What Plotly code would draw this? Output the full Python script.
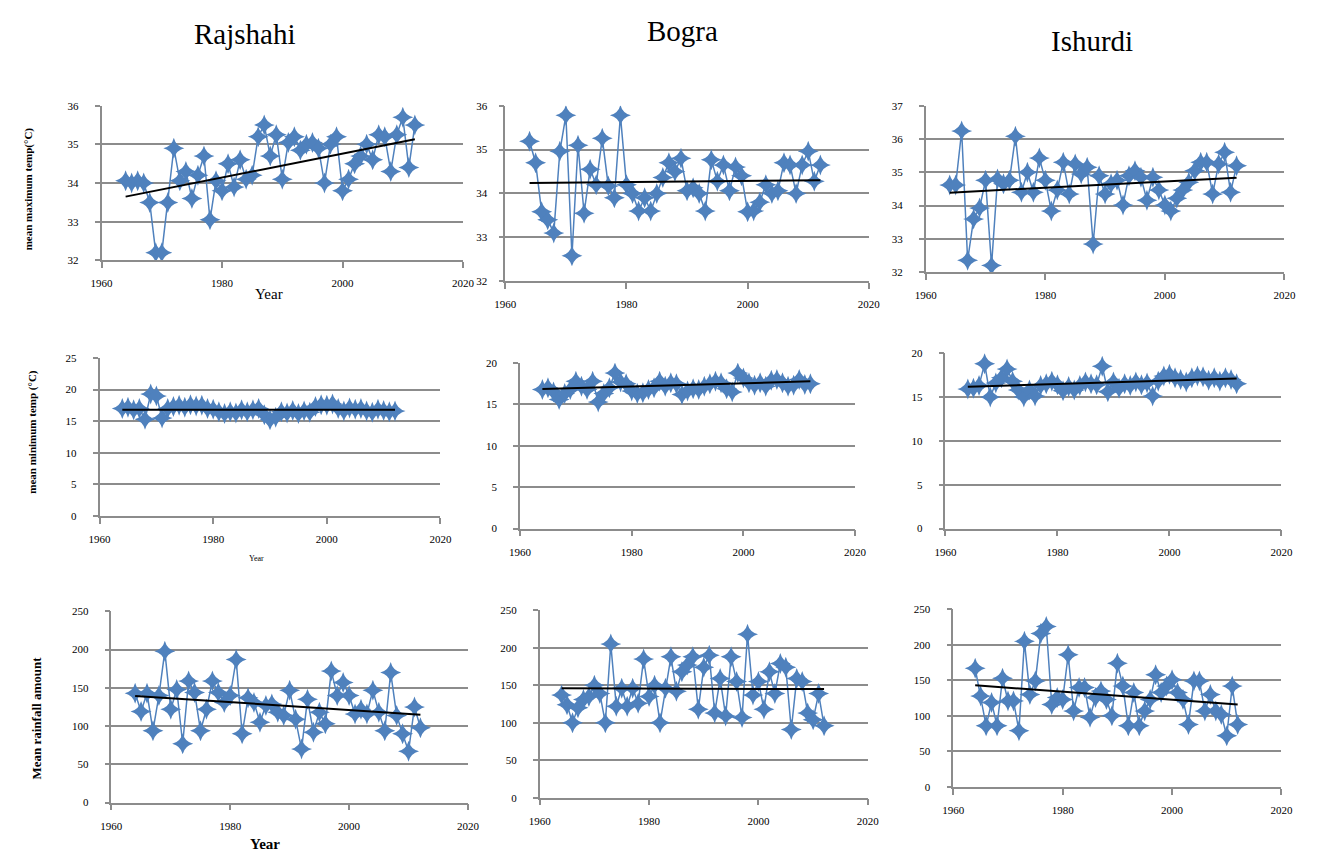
import plotly.graph_objects as go

years = list(range(1964, 2013))

raj_max = [34.06, 34.0, 34.06, 34.0, 33.5, 32.2, 32.2, 33.5, 34.9, 34.06,
           34.3, 33.6, 34.2, 34.7, 33.05, 34.06, 33.8, 34.5, 33.9, 34.6,
           34.1, 34.2, 35.2, 35.5, 34.7, 35.25, 34.1, 35.05, 35.2, 34.85,
           35.0, 35.05, 34.9, 34.0, 35.0, 35.2, 33.8, 34.1, 34.5, 34.7,
           35.0, 34.6, 35.25, 35.2, 34.3, 35.25, 35.7, 34.4, 35.5]
bog_max = [35.19, 34.7, 33.58, 33.4, 33.1, 34.96, 35.78, 32.58, 35.1, 33.55,
           34.55, 34.2, 35.26, 34.17, 33.9, 35.78, 34.2, 34.0, 33.6, 33.9,
           33.6, 34.0, 34.36, 34.7, 34.5, 34.8, 34.06, 34.13, 34.0, 33.6,
           34.77, 34.28, 34.65, 34.06, 34.6, 34.4, 33.58, 33.6, 33.8, 34.2,
           34.0, 34.06, 34.7, 34.65, 34.0, 34.65, 34.96, 34.28, 34.65]
ish_max = [34.62, 34.62, 36.24, 32.36, 33.6, 33.93, 34.76, 32.2, 34.8, 34.66,
           34.76, 36.08, 34.4, 35.0, 34.4, 35.43, 34.76, 33.84, 34.47, 35.3,
           34.35, 35.25, 34.95, 35.15, 32.85, 34.9, 34.35, 34.66, 34.76, 34.02,
           34.9, 35.05, 34.85, 34.16, 34.85, 34.47, 34.02, 33.84, 34.22, 34.47,
           34.7, 35.05, 35.3, 35.3, 34.35, 35.25, 35.6, 34.4, 35.2]

raj_min = [17.0, 17.2, 16.8, 17.0, 15.3, 19.3, 19.0, 15.5, 17.0, 17.3,
           17.5, 17.2, 17.6, 17.4, 17.5, 17.0, 16.9, 16.5, 16.2, 16.5,
           16.3, 16.8, 16.5, 16.8, 17.0, 16.0, 15.2, 15.6, 16.5, 16.3,
           16.7, 16.2, 16.6, 16.4, 17.3, 17.6, 17.5, 17.7, 17.0, 16.6,
           17.1, 16.9, 17.0, 16.6, 16.4, 16.9, 16.7, 16.5, 16.6]
bog_min = [16.8, 17.0, 16.5, 15.6, 16.3, 16.8, 17.8, 17.2, 16.8, 17.8,
           15.3, 16.3, 17.0, 18.8, 17.7, 17.5, 16.6, 16.3, 16.4, 16.8,
           17.0, 17.8, 17.2, 17.6, 17.5, 16.2, 16.6, 16.9, 16.8, 17.2,
           17.5, 17.8, 17.6, 16.9, 16.5, 18.8, 18.2, 17.6, 17.3, 17.6,
           17.2, 17.9, 18.0, 17.6, 17.2, 17.3, 18.0, 17.4, 17.5]
ish_min = [15.9, 16.0, 16.3, 18.8, 15.0, 16.6, 17.2, 18.2, 16.8, 15.8,
           15.0, 15.8, 15.1, 16.3, 16.5, 16.8, 16.4, 15.7, 16.2, 15.8,
           16.3, 16.7, 16.5, 16.4, 18.5, 15.6, 16.7, 16.0, 16.5, 16.3,
           16.7, 16.4, 16.6, 15.1, 16.8, 17.4, 17.6, 17.2, 17.0, 16.7,
           17.2, 17.4, 17.3, 16.9, 17.2, 16.8, 17.2, 17.0, 16.5]

raj_rain = [143, 119, 143, 94, 140, 198, 122, 148, 77, 159,
            144, 94, 122, 159, 144, 131, 140, 187, 90, 137,
            131, 105, 127, 129, 118, 114, 147, 109, 70, 135,
            92, 118, 103, 172, 140, 157, 140, 116, 122, 116,
            147, 118, 94, 170, 114, 90, 67, 125, 98]
bog_rain = [137, 124, 100, 120, 131, 135, 150, 139, 100, 205,
            122, 146, 122, 146, 126, 185, 135, 150, 100, 146,
            188, 142, 168, 177, 188, 118, 174, 190, 113, 159,
            109, 188, 155, 107, 218, 137, 155, 118, 168, 139,
            179, 174, 91, 159, 155, 113, 104, 139, 96]
ish_rain = [167, 128, 86, 119, 86, 153, 121, 121, 79, 205,
            130, 149, 216, 226, 116, 126, 123, 186, 107, 140,
            140, 98, 126, 135, 123, 100, 174, 142, 86, 133,
            86, 107, 123, 158, 133, 142, 151, 133, 123, 88,
            149, 149, 107, 130, 107, 102, 72, 142, 88]

trend_years = [1964, 2012]
raj_max_trend = [33.65, 35.13]
bog_max_trend = [34.24, 34.30]
ish_max_trend = [34.39, 34.84]
raj_min_trend = [16.8, 16.8]
bog_min_trend = [16.87, 17.78]
ish_min_trend = [16.17, 17.1]
raj_rain_trend = [139.5, 115]
bog_rain_trend = [146, 145]
ish_rain_trend = [143, 116]

stations = ["Rajshahi", "Bogra", "Ishurdi"]
x_ticks = [1960, 1980, 2000, 2020]

W, H, OFF = 1310, 844, 8

panels = [
    # series, trend, yrange, dtick, (x0 px, x1 px, ytop px, ybottom px), y label standoff
    (raj_max, raj_max_trend, [32, 36], 1, (92, 460, 101, 258), 14),
    (bog_max, bog_max_trend, [32, 36], 1, (503, 873, 101, 279), 9),
    (ish_max, ish_max_trend, [32, 37], 1, (931, 1296, 101, 270), 14),
    (raj_min, raj_min_trend, [0, 25], 5, (90, 437, 357, 517), 14),
    (bog_min, bog_min_trend, [0, 20], 5, (518, 859, 362, 530), 14),
    (ish_min, ish_min_trend, [0, 20], 5, (951, 1293, 352, 530), 14),
    (raj_rain, raj_rain_trend, [0, 250], 50, (102, 465, 614, 808), 14),
    (bog_rain, bog_rain_trend, [0, 250], 50, (538, 872, 613, 803), 14),
    (ish_rain, ish_rain_trend, [0, 250], 50, (959, 1293, 612, 792), 14),
]

def fx(px):
    return (px - OFF) / W

def fy(py):
    return 1 - (py - OFF) / H

BLUE = "#4F81BD"
GRID = "#8C8C8C"
serif = "Liberation Serif"
tickfont = dict(family=serif, size=11, color="black")

fig = go.Figure()
layout = {}
for i, (vals, trend, yr, dt, (x0, x1, yt, yb), ysoff) in enumerate(panels):
    n = i + 1
    xa = "x" if n == 1 else f"x{n}"
    ya = "y" if n == 1 else f"y{n}"
    fig.add_trace(go.Scatter(
        x=years, y=vals, xaxis=xa, yaxis=ya, mode="lines+markers",
        line=dict(color=BLUE, width=1.5),
        marker=dict(symbol="star-diamond", size=15, color=BLUE,
                    line=dict(width=0)),
        showlegend=False, hoverinfo="x+y"))
    fig.add_trace(go.Scatter(
        x=trend_years, y=trend, xaxis=xa, yaxis=ya, mode="lines",
        line=dict(color="black", width=2), showlegend=False,
        hoverinfo="skip"))
    layout["xaxis" if n == 1 else f"xaxis{n}"] = dict(
        domain=[fx(x0), fx(x1)], anchor=ya, range=[1960, 2020],
        tickvals=x_ticks, showgrid=False, zeroline=False,
        showline=True, linecolor=GRID, linewidth=1.5,
        ticks="outside", ticklen=6, tickcolor=GRID, tickwidth=1.5,
        ticklabelstandoff=6,
        tickfont=tickfont, fixedrange=True)
    layout["yaxis" if n == 1 else f"yaxis{n}"] = dict(
        domain=[fy(yb), fy(yt)], anchor=xa, range=yr, dtick=dt,
        tick0=yr[0], showgrid=True, gridcolor=GRID, gridwidth=1.5,
        zeroline=False, showline=True, linecolor=GRID, linewidth=1.5,
        ticks="outside", ticklen=5, tickcolor=GRID, tickwidth=1.5,
        ticklabelstandoff=ysoff,
        tickfont=tickfont, fixedrange=True)

annotations = [
    dict(text="Rajshahi", x=fx(238), y=fy(28), font=dict(family=serif, size=29)),
    dict(text="Bogra", x=fx(683), y=fy(25), font=dict(family=serif, size=29)),
    dict(text="Ishurdi", x=fx(1100), y=fy(35), font=dict(family=serif, size=29)),
    dict(text="<b>mean maximum temp(°C)</b>", x=fx(18), y=fy(185), textangle=-90,
         font=dict(family=serif, size=11)),
    dict(text="<b>mean minimum temp (°C)</b>", x=fx(22), y=fy(432), textangle=-90,
         font=dict(family=serif, size=11)),
    dict(text="<b>Mean rainfall amount</b>", x=fx(26), y=fy(722), textangle=-90,
         font=dict(family=serif, size=13)),
    dict(text="Year", x=fx(262), y=fy(292), font=dict(family=serif, size=15)),
    dict(text="Year", x=fx(250), y=fy(560), font=dict(family=serif, size=8)),
    dict(text="<b>Year</b>", x=fx(258), y=fy(850), font=dict(family=serif, size=15)),
]
for a in annotations:
    a["font"]["color"] = "black"
    a.update(xref="paper", yref="paper", showarrow=False,
             xanchor="center", yanchor="middle")

fig.update_layout(
    width=W, height=H, margin=dict(l=0, r=0, t=0, b=0),
    paper_bgcolor="white", plot_bgcolor="white",
    annotations=annotations, **layout)

fig.write_html("out.html")
